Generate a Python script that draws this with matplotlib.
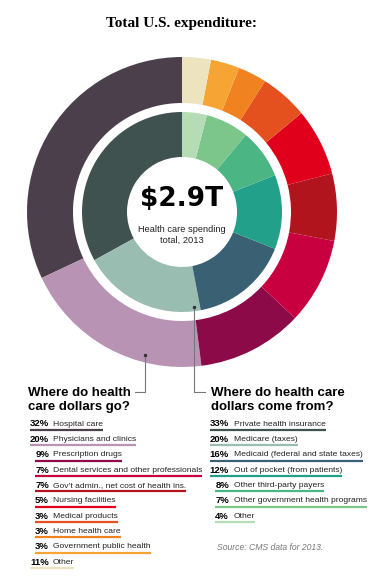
import matplotlib
matplotlib.use("Agg")
import matplotlib.pyplot as plt

W, H = 385, 576

# where the money goes (outer ring)
go_labels = ["Hospital care", "Physicians and clinics", "Prescription drugs",
             "Dental services and other professionals",
             "Gov\u2019t admin., net cost of health ins.", "Nursing facilities",
             "Medical products", "Home health care", "Government public health", "Other"]
go_pct = [32, 20, 9, 7, 7, 5, 3, 3, 3, 11]
go_colors = ["#4b3f4c", "#b993b4", "#8c0a48", "#c8003f", "#b2141e",
             "#e0001b", "#e5501f", "#f08220", "#f6a433", "#ede3be"]

# where the money comes from (inner ring)
from_labels = ["Private health insurance", "Medicare (taxes)",
               "Medicaid (federal and state taxes)", "Out of pocket (from patients)",
               "Other third-party payers", "Other government health programs", "Other"]
from_pct = [33, 20, 16, 12, 8, 7, 4]
from_colors = ["#3f524f", "#9abdb2", "#3a6173", "#23a08a", "#4bb584", "#7cc68c", "#b5ddb5"]

fig = plt.figure(figsize=(W / 100, H / 100), dpi=100)
ax = fig.add_axes([0, 0, 1, 1])

cx, cy = 182, H - 212

# the original graphic sizes the outer ring by sorted share
ax.pie(sorted(go_pct, reverse=True), colors=go_colors, startangle=90, counterclock=True,
       radius=155, center=(cx, cy), wedgeprops=dict(width=46, linewidth=0), frame=True)
ax.pie(from_pct, colors=from_colors, startangle=90, counterclock=True,
       radius=100, center=(cx, cy), wedgeprops=dict(width=45, linewidth=0), frame=True)

ax.set_xlim(0, W)
ax.set_ylim(0, H)
ax.set_aspect("equal")
ax.axis("off")

sans = ["Liberation Sans", "DejaVu Sans"]

# title
ax.text(181, H - 24, "Total U.S. expenditure:", family=["Liberation Serif", "DejaVu Serif"],
        fontweight="bold", fontsize=11, ha="center", va="center")

# centre text
ax.text(cx, H - 199, "$2.9T", family="DejaVu Sans", fontweight="bold", fontsize=19,
        ha="center", va="center")
ax.text(cx, H - 235, "Health care spending\ntotal, 2013", family=sans, fontsize=6.7,
        ha="center", va="center", linespacing=1.15, color="#222222")

# leader lines
ax.plot([145, 145, 135], [H - 355, H - 392, H - 392], color="#777777", lw=0.8)
ax.plot([194, 194, 205], [H - 307, H - 392, H - 392], color="#777777", lw=0.8)
ax.plot([145, 194], [H - 355, H - 307], "o", color="#333333", ms=1.5, ls="none")

# headings
ax.text(28, H - 400, "Where do health\ncare dollars go?", family=sans, fontweight="bold",
        fontsize=9.5, ha="left", va="center", linespacing=1.15)
ax.text(211, H - 400, "Where do health care\ndollars come from?", family=sans,
        fontweight="bold", fontsize=9.5, ha="left", va="center", linespacing=1.15)

renderer = fig.canvas.get_renderer()


def legend_rows(labels, pcts, colors, x_pct, x_lab, y0, step):
    for i, (lab, p, col) in enumerate(zip(labels, pcts, colors)):
        y = H - (y0 + i * step)
        tp = ax.text(x_pct, y, f"{p}%", family=sans, fontweight="bold", fontsize=6.8,
                     ha="right", va="center")
        tl = ax.text(x_lab, y, lab, family=sans, fontsize=6.1, ha="left", va="center",
                     color="#222222")
        b1 = tp.get_window_extent(renderer).transformed(ax.transData.inverted())
        b2 = tl.get_window_extent(renderer).transformed(ax.transData.inverted())
        ax.plot([b1.x0, b2.x1], [y - 6, y - 6], color=col, lw=1.6, solid_capstyle="butt")


legend_rows(go_labels, go_pct, go_colors, 49, 53, 424, 15.35)
legend_rows(from_labels, from_pct, from_colors, 229, 234, 424, 15.35)

ax.text(217, H - 547, "Source: CMS data for 2013.", family=sans, fontsize=6.2,
        style="italic", color="#777777", ha="left", va="center")

fig.savefig("out.png", dpi=100)
